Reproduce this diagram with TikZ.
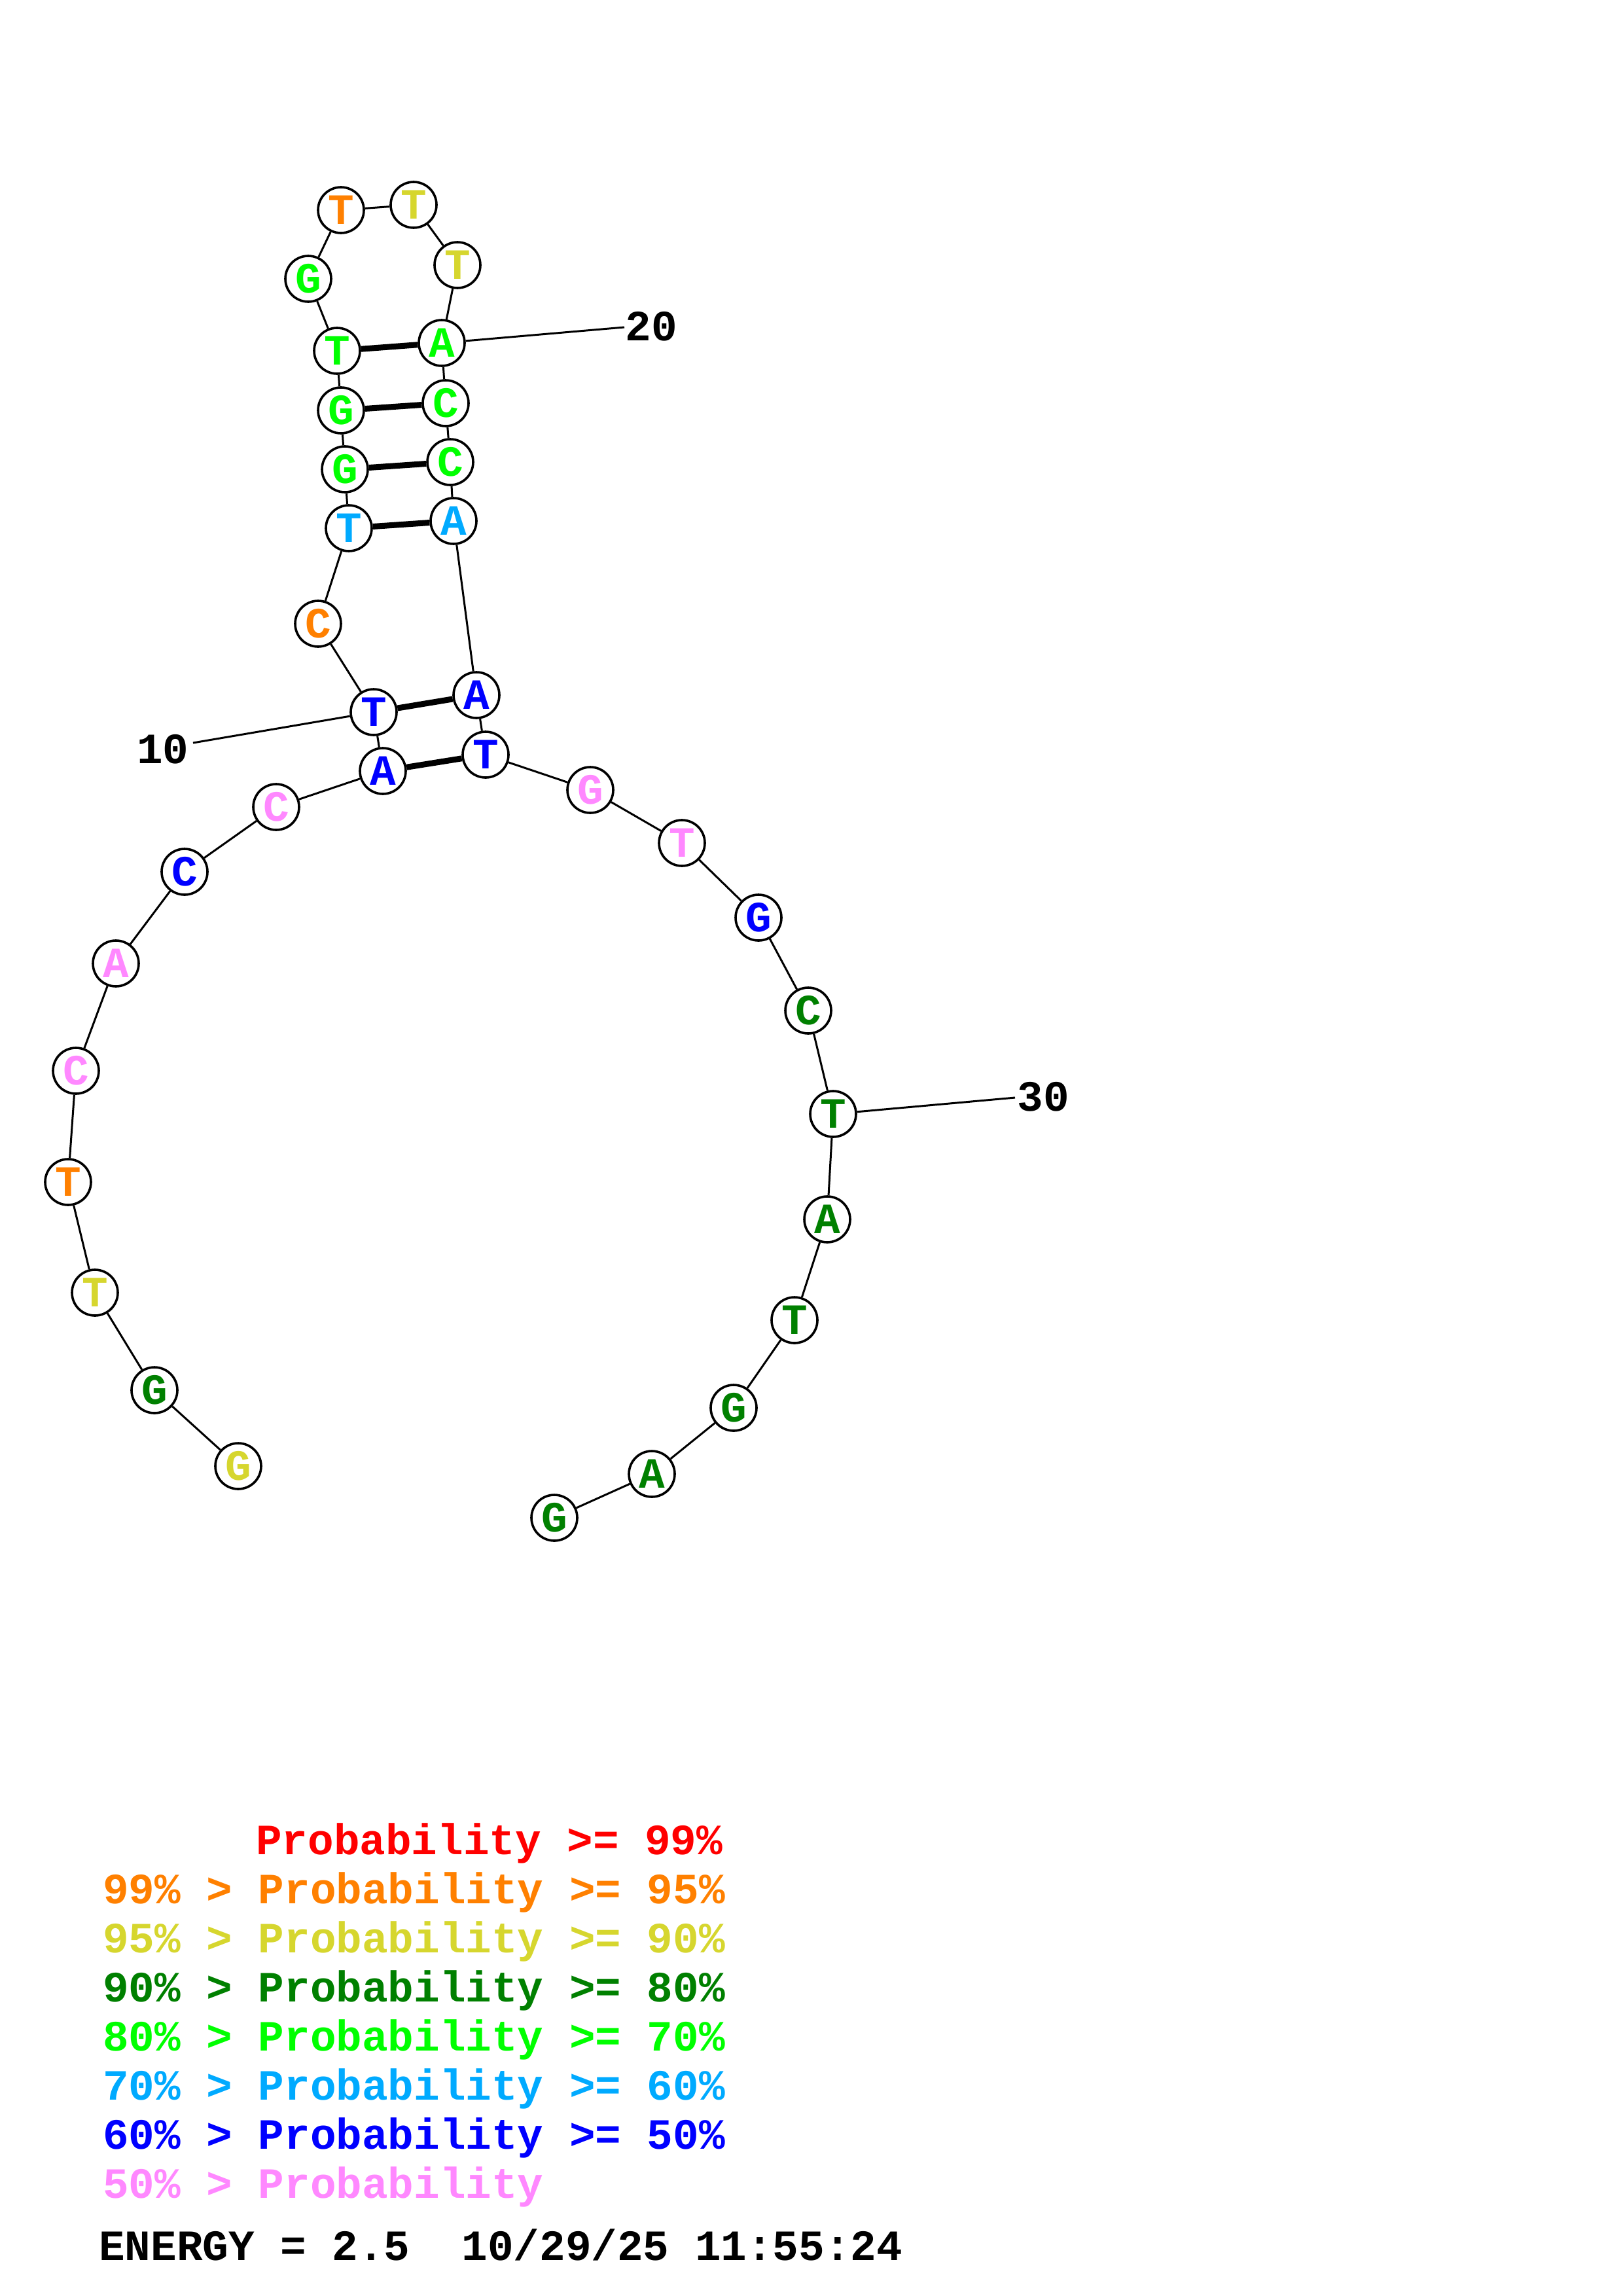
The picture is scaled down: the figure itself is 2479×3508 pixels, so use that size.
\documentclass[tikz,border=0pt]{standalone}
\usepackage{fontspec}
\newfontfamily\courfam{Liberation Mono}
\newcommand{\courb}{\courfam\bfseries}
\definecolor{cred}{HTML}{FF0000}
\definecolor{corange}{HTML}{FF8000}
\definecolor{cyel}{HTML}{D6D62E}
\definecolor{cdgreen}{HTML}{008000}
\definecolor{clime}{HTML}{00FF00}
\definecolor{clblue}{HTML}{00AAFF}
\definecolor{cblue}{HTML}{0000FF}
\definecolor{cpink}{HTML}{FF88FF}
\begin{document}
\begin{tikzpicture}[x=1pt,y=-1pt,
  nt/.style={circle,draw=black,line width=3.6pt,fill=white,minimum size=70pt,inner sep=0pt,font=\courb\fontsize{66}{66}\selectfont},
  bb/.style={line width=3pt,black},
  pr/.style={line width=9pt,black},
  lbl/.style={inner sep=0pt,font=\courb\fontsize{66}{66}\selectfont},
  leg/.style={inner sep=0pt,anchor=base west,font=\courb\fontsize{66}{66}\selectfont}]
\useasboundingbox (0,0) rectangle (2479,3508);
\fill[white] (0,0) rectangle (2479,3508);
% label anchor points
\coordinate (e10) at (295,1135);
\coordinate (e20) at (954,500);
\coordinate (e30) at (1551,1677);
% nucleotides
\node[nt,text=cyel]    (n1)  at (364,2240) {G};
\node[nt,text=cdgreen] (n2)  at (236,2124) {G};
\node[nt,text=cyel]    (n3)  at (145,1975) {T};
\node[nt,text=corange] (n4)  at (104,1806) {T};
\node[nt,text=cpink]   (n5)  at (116,1636) {C};
\node[nt,text=cpink]   (n6)  at (177,1472) {A};
\node[nt,text=cblue]   (n7)  at (282,1332) {C};
\node[nt,text=cpink]   (n8)  at (422,1233) {C};
\node[nt,text=cblue]   (n9)  at (585,1178) {A};
\node[nt,text=cblue]   (n10) at (571,1088) {T};
\node[nt,text=corange] (n11) at (486,953) {C};
\node[nt,text=clblue]  (n12) at (533,807) {T};
\node[nt,text=clime]   (n13) at (527,717) {G};
\node[nt,text=clime]   (n14) at (521,627) {G};
\node[nt,text=clime]   (n15) at (515,536) {T};
\node[nt,text=clime]   (n16) at (471,426) {G};
\node[nt,text=corange] (n17) at (521,321) {T};
\node[nt,text=cyel]    (n18) at (632,313) {T};
\node[nt,text=cyel]    (n19) at (699,405) {T};
\node[nt,text=clime]   (n20) at (675,524) {A};
\node[nt,text=clime]   (n21) at (681,616) {C};
\node[nt,text=clime]   (n22) at (688,706) {C};
\node[nt,text=clblue]  (n23) at (693,796) {A};
\node[nt,text=cblue]   (n24) at (728,1062) {A};
\node[nt,text=cblue]   (n25) at (742,1153) {T};
\node[nt,text=cpink]   (n26) at (902,1207) {G};
\node[nt,text=cpink]   (n27) at (1042,1288) {T};
\node[nt,text=cblue]   (n28) at (1159,1402) {G};
\node[nt,text=cdgreen] (n29) at (1235,1544) {C};
\node[nt,text=cdgreen] (n30) at (1273,1702) {T};
\node[nt,text=cdgreen] (n31) at (1264,1863) {A};
\node[nt,text=cdgreen] (n32) at (1214,2017) {T};
\node[nt,text=cdgreen] (n33) at (1121,2151) {G};
\node[nt,text=cdgreen] (n34) at (996,2252) {A};
\node[nt,text=cdgreen] (n35) at (847,2319) {G};
% backbone
\draw[bb] (n1)--(n2)--(n3)--(n4)--(n5)--(n6)--(n7)--(n8)--(n9)--(n10)--(n11)--(n12)--(n13)--(n14)--(n15)--(n16)--(n17)--(n18);
\draw[bb] (n18)--(n19)--(n20)--(n21)--(n22)--(n23)--(n24)--(n25)--(n26)--(n27)--(n28)--(n29)--(n30)--(n31)--(n32)--(n33)--(n34)--(n35);
% pairs
\draw[pr] (n9)--(n25);
\draw[pr] (n10)--(n24);
\draw[pr] (n12)--(n23);
\draw[pr] (n13)--(n22);
\draw[pr] (n14)--(n21);
\draw[pr] (n15)--(n20);
% number labels
\draw[bb] (n10)--(e10);
\draw[bb] (n20)--(e20);
\draw[bb] (n30)--(e30);
\node[lbl] (l10) at (249,1145) {10};
\node[lbl] (l20) at (995,499) {20};
\node[lbl] (l30) at (1594,1676) {30};
% legend
\node[leg,text=cred]    (g1) at (391,2833) {Probability >= 99\%};
\node[leg,text=corange] (g2) at (157,2908) {99\% > Probability >= 95\%};
\node[leg,text=cyel]    (g3) at (157,2983) {95\% > Probability >= 90\%};
\node[leg,text=cdgreen] (g4) at (157,3058) {90\% > Probability >= 80\%};
\node[leg,text=clime]   (g5) at (157,3133) {80\% > Probability >= 70\%};
\node[leg,text=clblue]  (g6) at (157,3208) {70\% > Probability >= 60\%};
\node[leg,text=cblue]   (g7) at (157,3283) {60\% > Probability >= 50\%};
\node[leg,text=cpink]   (g8) at (157,3358) {50\% > Probability};
\node[leg,text=black]   (g9) at (151,3453) {ENERGY = 2.5\ \ 10/29/25 11:55:24};
\end{tikzpicture}
\end{document}
